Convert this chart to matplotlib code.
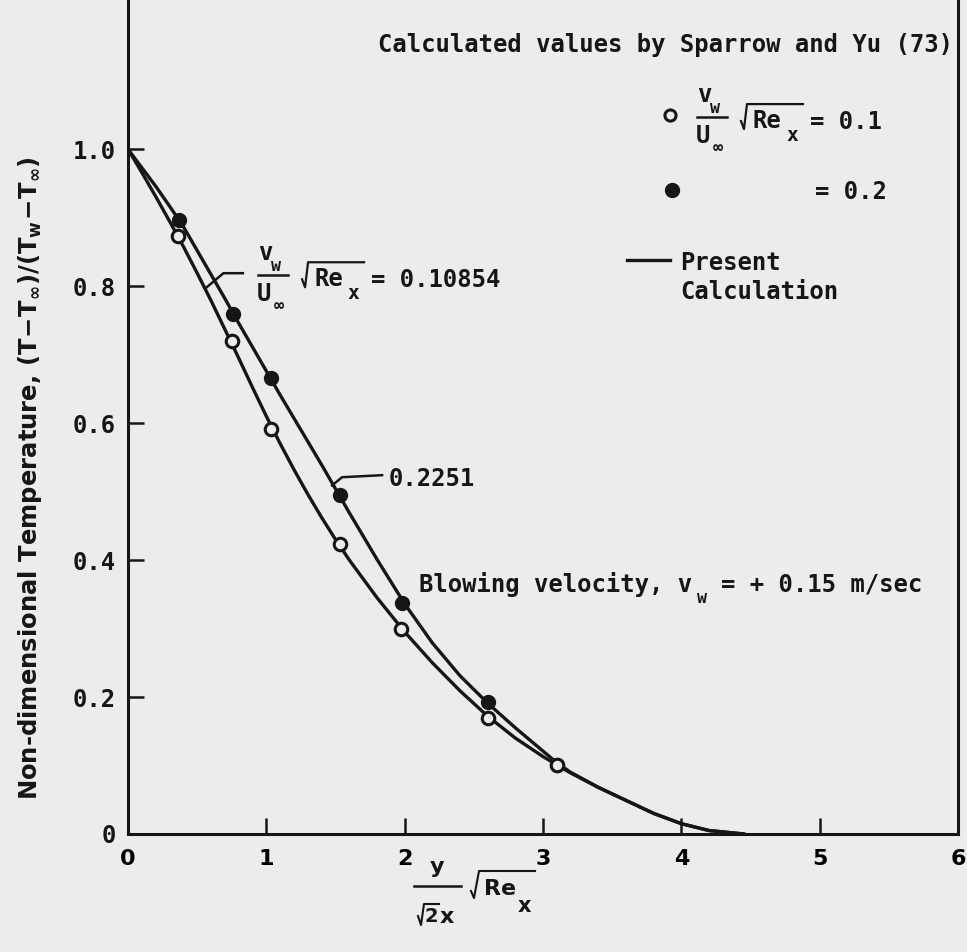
import numpy as np
import matplotlib.pyplot as plt
import matplotlib.transforms as mtransforms

# Sparrow and Yu (73): vw/Uinf*sqrt(Re_x) = 0.1 (open) and 0.2 (filled)
eta_open = [0.36, 0.75, 1.03, 1.53, 1.97, 2.60, 3.10]
theta_open = [0.874, 0.720, 0.591, 0.423, 0.299, 0.169, 0.101]
eta_fill = [0.37, 0.76, 1.03, 1.53, 1.98, 2.60, 3.10]
theta_fill = [0.896, 0.759, 0.666, 0.495, 0.337, 0.193, 0.101]

# present calculation
eta_calc = [0, 0.1, 0.2, 0.3, 0.4, 0.5, 0.6, 0.7, 0.8, 0.9, 1.0, 1.1, 1.2,
            1.3, 1.4, 1.5, 1.6, 1.8, 2.0, 2.2, 2.4, 2.6, 2.8, 3.0, 3.1, 3.2,
            3.4, 3.6, 3.8, 4.0, 4.2, 4.45]
theta_10854 = [1.0, 0.966, 0.931, 0.895, 0.858, 0.819, 0.779, 0.737, 0.695,
               0.652, 0.610, 0.570, 0.532, 0.496, 0.462, 0.430, 0.400, 0.345,
               0.295, 0.250, 0.209, 0.172, 0.140, 0.113, 0.101, 0.089, 0.068,
               0.049, 0.030, 0.015, 0.005, 0.0]
theta_2251 = [1.0, 0.973, 0.946, 0.917, 0.887, 0.852, 0.817, 0.782, 0.746,
              0.711, 0.676, 0.641, 0.607, 0.573, 0.539, 0.504, 0.469, 0.401,
              0.336, 0.279, 0.231, 0.191, 0.155, 0.121, 0.104, 0.090, 0.068,
              0.049, 0.030, 0.015, 0.005, 0.0]

xticks = [0, 1, 2, 3, 4, 5, 6]
yticks = [0, 0.2, 0.4, 0.6, 0.8, 1.0]
ytick_labels = ['0', '0.2', '0.4', '0.6', '0.8', '1.0']

bg = '#ececec'
ink = '#161616'
FS = 17.2
mono = {'family': 'DejaVu Sans Mono', 'weight': 'bold', 'size': FS, 'color': ink}

fig = plt.figure(figsize=(9.67, 9.52), dpi=100, facecolor=bg)
ax = fig.add_axes([0.1324, 0.124, 0.8583, 0.876])
ax.set_facecolor(bg)
ax.set_xlim(0, 6)
ax.set_ylim(0, 1.218)


def anchor(x, y):
    # pixel offsets around a data point
    return mtransforms.Affine2D() + mtransforms.ScaledTranslation(x, y, ax.transData)


def vw_group(x, y, tail):
    # v_w / U_inf  sqrt(Re_x) = tail, anchored at left end of fraction bar
    tr = anchor(x, y)
    kw = dict(transform=tr, va='center', clip_on=False)
    ax.text(7, 22, 'v', ha='center', **kw, **mono)
    ax.text(18, 9, 'w', ha='center', **kw, **{**mono, 'size': 12})
    ax.plot([0, 30], [0, 0], color=ink, lw=1.8, transform=tr, clip_on=False)
    ax.text(6, -19, 'U', ha='center', **kw, **mono)
    ax.text(21, -31, '∞', ha='center', **kw, **{**mono, 'size': 12})
    ax.plot([44, 47, 50, 106], [-4, -12, 13, 13], color=ink, lw=1.6,
            transform=tr, clip_on=False)
    ax.text(56, -4, 'Re', ha='left', **kw, **mono)
    ax.text(95, -18, 'x', ha='center', **kw, **{**mono, 'size': 14})
    ax.text(113, -5, tail, ha='left', **kw, **mono)


ax.plot(eta_calc, theta_10854, color=ink, lw=2.4, zorder=2)
ax.plot(eta_calc, theta_2251, color=ink, lw=2.4, zorder=2)
ax.plot(eta_fill, theta_fill, 'o', ms=10, mfc=ink, mec=ink, zorder=3)
ax.plot(eta_open, theta_open, 'o', ms=9, mfc=bg, mec=ink, mew=2.2, zorder=4)

ax.spines['top'].set_visible(False)
for s in ['left', 'bottom', 'right']:
    ax.spines[s].set_linewidth(2.2)
    ax.spines[s].set_color(ink)

ax.set_xticks(xticks)
ax.set_xticklabels([str(t) for t in xticks], fontfamily='DejaVu Sans',
                   fontweight='bold', fontsize=16)
ax.set_yticks(yticks)
ax.set_yticklabels(ytick_labels, fontdict=mono)
ax.tick_params(axis='both', direction='in', length=11.5, width=1.8, color=ink)
ax.tick_params(axis='x', pad=11)
ax.tick_params(axis='y', pad=9)
ax.tick_params(right=False)

# curve labels with leaders
ax.plot([0.56, 0.69, 0.83], [0.797, 0.819, 0.819], color=ink, lw=1.8)
vw_group(0.940, 0.816, '= 0.10854')
ax.plot([1.475, 1.547, 1.837], [0.509, 0.521, 0.524], color=ink, lw=1.8)
ax.text(1.887, 0.519, '0.2251', va='center', ha='left', **mono)

# key
ax.text(1.81, 1.152, 'Calculated values by Sparrow and Yu (73)',
        va='center', ha='left', **mono)
ax.plot([3.92], [1.050], 'o', ms=8, mfc=bg, mec=ink, mew=2.2, clip_on=False)
vw_group(4.113, 1.047, '= 0.1')
ax.plot([3.93], [0.941], 'o', ms=10, mfc=ink, mec=ink)
ax.text(4.966, 0.938, '= 0.2', va='center', ha='left', **mono)
ax.plot([3.607, 3.918], [0.838, 0.838], color=ink, lw=2.4)
ax.text(3.99, 0.834, 'Present', va='center', ha='left', **mono)
ax.text(3.99, 0.792, 'Calculation', va='center', ha='left', **mono)

ax.text(2.10, 0.365, 'Blowing velocity, v', va='center', ha='left', **mono)
tr = anchor(2.10, 0.365)
ax.text(283, -14, 'w', transform=tr, va='center', ha='center', **{**mono, 'size': 12})
ax.text(302, 0, '= + 0.15 m/sec', transform=tr, va='center', ha='left', **mono)

# axis titles
fig.text(30 / 967, 1 - 478 / 952,
         r'Non-dimensional Temperature, $\mathbf{(T\!-\!T_\infty)/(T_w\!-\!T_\infty)}$',
         rotation=90, ha='center', va='center', fontfamily='DejaVu Sans',
         fontweight='bold', fontsize=17.5, color=ink, math_fontfamily='dejavusans')

sans = {'family': 'DejaVu Sans', 'weight': 'bold', 'color': ink}
xt = mtransforms.Affine2D().translate(414, 952 - 886)
fig.text(23, 19, 'y', transform=xt, ha='center', va='center', size=16, **sans)
fig.lines.append(plt.Line2D([0, 47], [0, 0], color=ink, lw=1.8, transform=xt))
fig.lines.append(plt.Line2D([4, 7, 10, 25], [-30, -39, -18, -18], color=ink,
                            lw=1.5, transform=xt))
fig.text(17, -30, '2', transform=xt, ha='center', va='center', size=14, **sans)
fig.text(33, -31, 'x', transform=xt, ha='center', va='center', size=16, **sans)
fig.lines.append(plt.Line2D([57, 60, 65, 121], [-5, -12, 15, 15], color=ink,
                            lw=1.5, transform=xt))
fig.text(70, -3, 'Re', transform=xt, ha='left', va='center', size=16, **sans)
fig.text(110, -20, 'x', transform=xt, ha='center', va='center', size=15, **sans)

fig.savefig('out.png', dpi=100, facecolor=bg)
